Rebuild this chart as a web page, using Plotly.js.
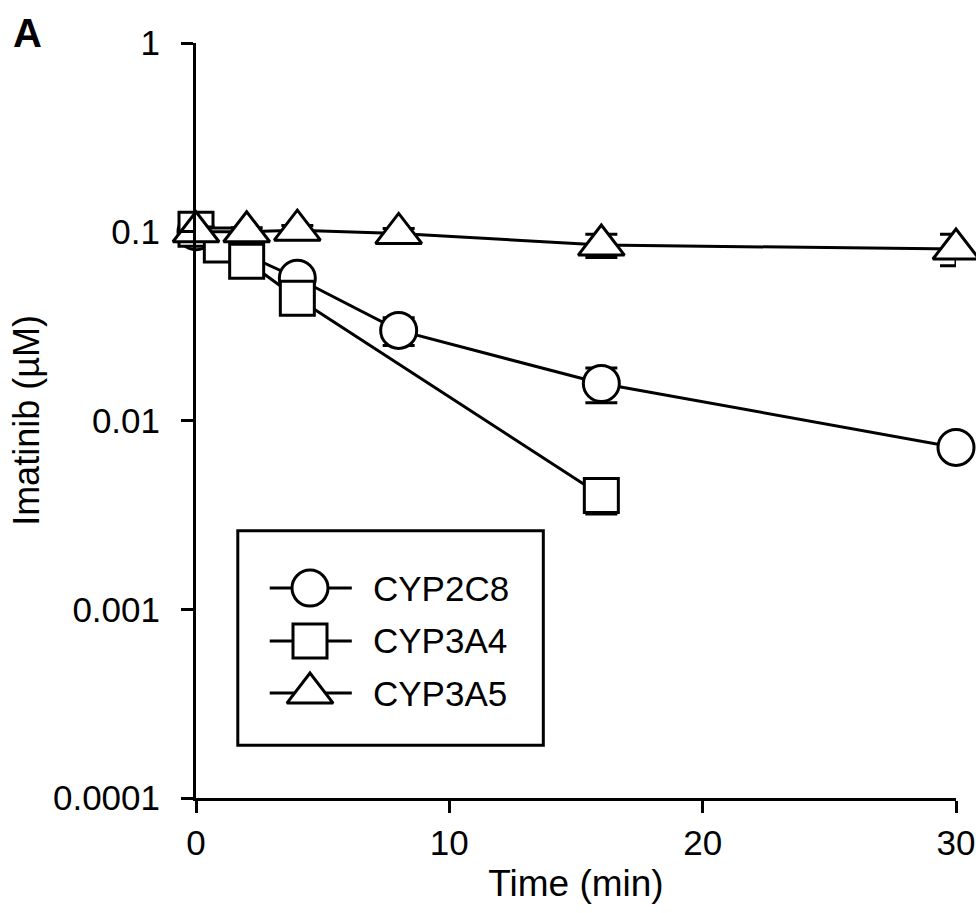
<!DOCTYPE html>
<html>
<head>
<meta charset="utf-8">
<script src="https://cdn.plot.ly/plotly-3.0.1.min.js"></script>
<style>html,body{margin:0;padding:0;background:#fff;}</style>
</head>
<body>
<div id="chart" style="width:976px;height:913px;"></div>
<script>
// ---- data ----
const seriesNames = ["CYP2C8", "CYP3A4", "CYP3A5"];
const timeCYP2C8 = [0, 4, 8, 16, 30];
const concCYP2C8 = [0.100, 0.0567, 0.0300, 0.0157, 0.0072];
const errCYP2C8  = [0.004, 0.003, 0.005, 0.0033, 0.0006];

const timeCYP3A4 = [0, 1, 2, 4, 16];
const concCYP3A4 = [0.103, 0.085, 0.0697, 0.0444, 0.0040];
const errCYP3A4  = [0.006, 0.004, 0.004, 0.003, 0.0008];

const timeCYP3A5 = [0, 2, 4, 8, 16, 30];
const concCYP3A5 = [0.100, 0.100, 0.102, 0.098, 0.085, 0.081];
const errUpCYP3A5 = [0.006, 0.005, 0.006, 0.006, 0.012, 0.016];
const errDnCYP3A5 = [0.006, 0.005, 0.006, 0.006, 0.012, 0.015];

const xTickVals = [0, 10, 20, 30];
const yTickVals = [1, 0.1, 0.01, 0.001, 0.0001];
const yTickText = ["1", "0.1", "0.01", "0.001", "0.0001"];

// ---- styling ----
const FONT = "Liberation Sans, Arial, sans-serif";
const symbols = ["circle", "square", "triangle-up"];
const sizes = [36, 34, 40];
const LW = 3;

function series(x, y, errPlus, errMinus, i) {
  return {
    x: x, y: y, name: seriesNames[i], type: "scatter", mode: "lines+markers",
    cliponaxis: false, showlegend: false,
    line: {color: "#000", width: LW},
    marker: {symbol: symbols[i], size: sizes[i], color: "#fff", line: {color: "#000", width: LW}},
    error_y: {type: "data", array: errPlus, arrayminus: errMinus, symmetric: false,
              color: "#000", thickness: LW, width: 16, visible: true}
  };
}

const traces = [
  series(timeCYP2C8, concCYP2C8, errCYP2C8, errCYP2C8, 0),
  series(timeCYP3A4, concCYP3A4, errCYP3A4, errCYP3A4, 1),
  series(timeCYP3A5, concCYP3A5, errUpCYP3A5, errDnCYP3A5, 2)
];

// ---- manual legend (overlay axes in 0..1 units) ----
const legRows = [0.278, 0.208, 0.139];
const legLineX = [0.097, 0.205];
const legMarkX = 0.150;
const legTextX = 0.230;
const shapes = [{
  type: "rect", xref: "paper", yref: "paper", x0: 0.055, x1: 0.457, y0: 0.070, y1: 0.354,
  line: {color: "#000", width: LW}, fillcolor: "rgba(0,0,0,0)", layer: "below"
}];
const annotations = [{
  text: "<b>A</b>", xref: "paper", yref: "paper", x: -0.243, y: 1.013,
  xanchor: "left", yanchor: "middle", showarrow: false,
  font: {family: FONT, size: 40, color: "#000"}
}];
seriesNames.forEach(function (nm, i) {
  traces.push({
    x: legLineX, y: [legRows[i], legRows[i]], xaxis: "x2", yaxis: "y2",
    type: "scatter", mode: "lines", showlegend: false, hoverinfo: "skip",
    line: {color: "#000", width: LW}
  });
  traces.push({
    x: [legMarkX], y: [legRows[i]], xaxis: "x2", yaxis: "y2",
    type: "scatter", mode: "markers", showlegend: false, hoverinfo: "skip", cliponaxis: false,
    marker: {symbol: symbols[i], size: sizes[i], color: "#fff", line: {color: "#000", width: LW}}
  });
  annotations.push({
    text: nm, xref: "paper", yref: "paper", x: legTextX, y: legRows[i],
    xanchor: "left", yanchor: "middle", showarrow: false,
    font: {family: FONT, size: 35, color: "#000"}
  });
});

const layout = {
  width: 976, height: 913,
  margin: {l: 196, r: 20, t: 43, b: 115},
  paper_bgcolor: "#fff", plot_bgcolor: "#fff",
  font: {family: FONT, color: "#000"},
  showlegend: false,
  xaxis: {
    range: [0, 30], tickvals: xTickVals, ticks: "outside", ticklen: 12, tickwidth: LW,
    tickcolor: "#000", showline: true, linecolor: "#000", linewidth: LW,
    showgrid: false, zeroline: false, automargin: false,
    tickfont: {family: FONT, size: 35, color: "#000"},
    title: {text: "Time (min)", font: {family: FONT, size: 37, color: "#000"}, standoff: 10}
  },
  yaxis: {
    type: "log", range: [-4, 0], tickvals: yTickVals, ticktext: yTickText,
    ticks: "outside", ticklen: 12, tickwidth: LW, tickcolor: "#000",
    showline: true, linecolor: "#000", linewidth: LW,
    showgrid: false, zeroline: false, automargin: false, ticklabelstandoff: 14,
    tickfont: {family: FONT, size: 35, color: "#000"},
    title: {text: "Imatinib (µM)", font: {family: FONT, size: 36, color: "#000"}, standoff: 3}
  },
  xaxis2: {overlaying: "x", anchor: "y2", range: [0, 1], visible: false, fixedrange: true},
  yaxis2: {overlaying: "y", anchor: "x2", range: [0, 1], visible: false, fixedrange: true},
  shapes: shapes,
  annotations: annotations
};

Plotly.newPlot("chart", traces, layout, {displayModeBar: false, staticPlot: true});
</script>
</body>
</html>
